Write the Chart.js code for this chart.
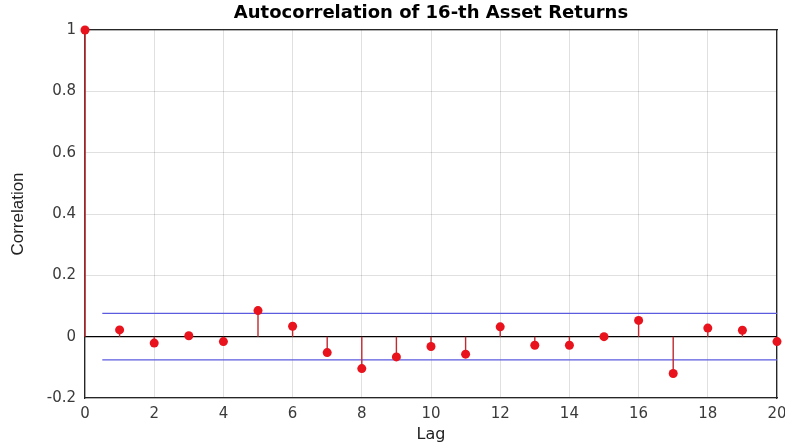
<!DOCTYPE html>
<html>
<head>
<meta charset="utf-8">
<script src="https://cdn.jsdelivr.net/npm/chart.js@4.4.1/dist/chart.umd.min.js"></script>
<style>
  html, body { margin: 0; padding: 0; background: #fff; }
  #wrap { width: 785px; height: 446px; position: relative; }
</style>
</head>
<body>
<div id="wrap"><canvas id="acfChart"></canvas></div>
<script>
// lags and sample autocorrelation
const lags = [0, 1, 2, 3, 4, 5, 6, 7, 8, 9, 10, 11, 12, 13, 14, 15, 16, 17, 18, 19, 20];
const acf = [1, 0.022, -0.021, 0.003, -0.016, 0.085, 0.034, -0.052, -0.104, -0.066,
             -0.032, -0.057, 0.032, -0.028, -0.028, 0.0, 0.053, -0.12, 0.028, 0.021, -0.016];
const bound = 0.0757;        // confidence bound (+/-)
const boundStart = 0.5;      // bounds start at lag 0.5
const xRange = [0, 20];
const yRange = [-0.2, 1];

// stems as one broken line: (lag,0) -> (lag,value), then a gap
const stems = [];
lags.forEach((l, i) => {
    stems.push({ x: l, y: 0 }, { x: l, y: acf[i] }, { x: l, y: null });
});

const font = "'DejaVu Sans', 'Liberation Sans', Arial, sans-serif";
const gridColor = 'rgba(0,0,0,0.12)';
const axisColor = '#262626';

function fmtTick(v) {
    if (Math.abs(v) < 1e-9) return '0';
    return String(parseFloat(v.toFixed(1)));
}

const ctx = document.getElementById('acfChart');
new Chart(ctx, {
    type: 'scatter',
    data: {
        datasets: [
            {
                label: 'ACF',
                data: lags.map((l, i) => ({ x: l, y: acf[i] })),
                pointRadius: 4.5,
                pointBackgroundColor: '#e8131c',
                pointBorderWidth: 0,
                clip: false,
                order: 0
            },
            {
                label: 'stems',
                data: stems,
                showLine: true,
                spanGaps: false,
                pointRadius: 0,
                borderColor: '#c02a30',
                borderWidth: 1.4,
                clip: false,
                order: 1
            },
            {
                label: 'zero',
                data: [{ x: xRange[0], y: 0 }, { x: xRange[1], y: 0 }],
                showLine: true,
                pointRadius: 0,
                borderColor: '#000',
                borderWidth: 1.3,
                order: 2
            },
            {
                label: 'upper',
                data: [{ x: boundStart, y: bound }, { x: xRange[1], y: bound }],
                showLine: true,
                pointRadius: 0,
                borderColor: '#5b5be0',
                borderWidth: 1.2,
                order: 3
            },
            {
                label: 'lower',
                data: [{ x: boundStart, y: -bound }, { x: xRange[1], y: -bound }],
                showLine: true,
                pointRadius: 0,
                borderColor: '#5b5be0',
                borderWidth: 1.2,
                order: 3
            }
        ]
    },
    options: {
        responsive: true,
        maintainAspectRatio: false,
        animation: false,
        layout: { padding: 0 },
        plugins: {
            legend: { display: false },
            tooltip: { enabled: false },
            title: {
                display: true,
                fullSize: false,
                text: 'Autocorrelation of 16-th Asset Returns',
                color: '#000',
                font: { family: font, size: 18, weight: 'bold', lineHeight: 1.2 },
                padding: { top: 3, bottom: 0 }
            }
        },
        scales: {
            x: {
                type: 'linear',
                position: 'bottom',
                min: xRange[0],
                max: xRange[1],
                ticks: { stepSize: 2, color: '#3a3a3a', font: { family: font, size: 15 }, padding: 7 },
                grid: { color: gridColor, drawTicks: false },
                border: { display: true, color: axisColor, width: 1.3 },
                title: { display: true, text: 'Lag', color: '#222', font: { family: font, size: 16 }, padding: { top: 0, bottom: 2 } },
                afterFit: s => { s.height = 48; s.paddingLeft = 0; s.paddingRight = 0; }
            },
            y: {
                type: 'linear',
                position: 'left',
                min: yRange[0],
                max: yRange[1],
                ticks: { stepSize: 0.2, color: '#3a3a3a', font: { family: font, size: 15 }, padding: 9, callback: fmtTick },
                grid: { color: gridColor, drawTicks: false },
                border: { display: true, color: axisColor, width: 1.3 },
                title: { display: true, text: 'Correlation', color: '#222', font: { family: "'Liberation Sans Narrow', 'Liberation Sans', Arial, sans-serif", size: 17 }, padding: { top: 8, bottom: 4 } },
                afterFit: s => { s.width = 85; s.paddingTop = 0; s.paddingBottom = 0; }
            },
            x2: {
                type: 'linear',
                position: 'top',
                min: xRange[0],
                max: xRange[1],
                ticks: { display: false },
                grid: { display: false },
                border: { display: true, color: axisColor, width: 1.3 },
                afterFit: s => { s.height = 5.4; }
            },
            y2: {
                type: 'linear',
                position: 'right',
                min: yRange[0],
                max: yRange[1],
                ticks: { display: false },
                grid: { display: false },
                border: { display: true, color: axisColor, width: 1.3 },
                afterFit: s => { s.width = 8; }
            }
        }
    }
});
</script>
</body>
</html>
